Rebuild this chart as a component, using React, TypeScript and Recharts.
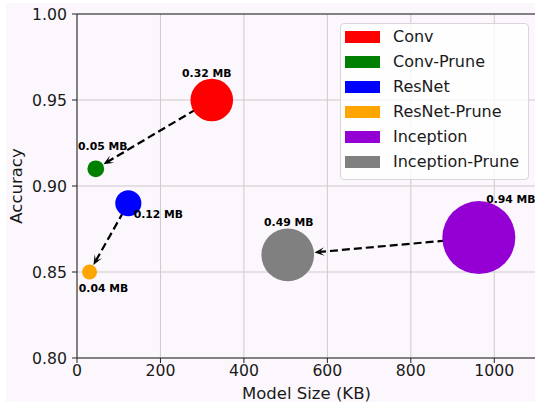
import React from "react";
import {
  ScatterChart,
  Scatter,
  XAxis,
  YAxis,
  ZAxis,
  CartesianGrid,
  ReferenceLine,
  Legend,
} from "recharts";

const models = ["Conv", "Conv-Prune", "ResNet", "ResNet-Prune", "Inception", "Inception-Prune"];
const modelSizeKB = [323, 45, 123, 30, 963, 505];
const accuracy = [0.95, 0.91, 0.89, 0.85, 0.87, 0.86];
const sizeMB = [0.32, 0.05, 0.12, 0.04, 0.94, 0.49];
const pruneArrows = [
  ["Conv", "Conv-Prune"],
  ["ResNet", "ResNet-Prune"],
  ["Inception", "Inception-Prune"],
];
const xTicks = [0, 200, 400, 600, 800, 1000];
const yTicks = [0.8, 0.85, 0.9, 0.95, 1.0];

const colors = ["#ff0000", "#008000", "#0000ff", "#ffa500", "#9400d3", "#808080"];
// where each "x.xx MB" label sits relative to its bubble centre (px)
const labelOffsets: Record<string, [number, number]> = {
  Conv: [-5, -27],
  "Conv-Prune": [7, -22],
  ResNet: [30, 11],
  "ResNet-Prune": [14, 16],
  Inception: [32, -38],
  "Inception-Prune": [1, -32],
};

const FONT = "DejaVu Sans, sans-serif";
const INK = "#1a1a1a";
const PINK = "#fcf7fc";
const MAX_AREA = 4452; // bubble area (px^2) for 1 MB
const radiusOf = (mb: number) => Math.sqrt((mb * MAX_AREA) / Math.PI);

const series = models.map((name, i) => ({
  name,
  color: colors[i],
  data: [{ x: modelSizeKB[i], y: accuracy[i], z: sizeMB[i], label: `${sizeMB[i].toFixed(2)} MB` }],
}));

const bubble = (name: string, color: string) => (p: any) => {
  const r = p.width / 2;
  const [dx, dy] = labelOffsets[name];
  return (
    <g>
      <circle cx={p.cx} cy={p.cy} r={r} fill={color} />
      <text
        x={p.cx + dx}
        y={p.cy + dy}
        textAnchor="middle"
        dominantBaseline="central"
        fontFamily={FONT}
        fontWeight="bold"
        fontSize={10.8}
        fill="#000"
      >
        {p.payload.label}
      </text>
    </g>
  );
};

const arrow = (rFrom: number, rTo: number) => (p: any) => {
  const { x1, y1, x2, y2 } = p;
  const len = Math.hypot(x2 - x1, y2 - y1);
  const ux = (x2 - x1) / len;
  const uy = (y2 - y1) / len;
  const sx = x1 + ux * (rFrom - 3);
  const sy = y1 + uy * (rFrom - 3);
  const tx = x2 - ux * (rTo + 0.5);
  const ty = y2 - uy * (rTo + 0.5);
  const hl = 10;
  const hw = 4.2;
  const notch = 5;
  const bx = tx - ux * hl;
  const by = ty - uy * hl;
  const nx = -uy;
  const ny = ux;
  const pts = [
    [tx, ty],
    [bx + nx * hw, by + ny * hw],
    [tx - ux * notch, ty - uy * notch],
    [bx - nx * hw, by - ny * hw],
  ]
    .map((q) => q.join(","))
    .join(" ");
  return (
    <g>
      <line
        x1={sx}
        y1={sy}
        x2={tx - ux * notch}
        y2={ty - uy * notch}
        stroke="#000"
        strokeWidth={2.2}
        strokeDasharray="8 4"
      />
      <polygon points={pts} fill="#000" />
    </g>
  );
};

const renderLegend = (props: any) => {
  const items = (props.payload || [])
    .filter((e: any) => models.includes(e.value))
    .sort((a: any, b: any) => models.indexOf(a.value) - models.indexOf(b.value));
  return (
    <div
      style={{
        boxSizing: "border-box",
        width: 189,
        height: 157,
        border: "1px solid #d9d5d9",
        borderRadius: 4,
        background: "rgba(255,255,255,0.8)",
        padding: "0px 0 0 4px",
        fontFamily: FONT,
        fontSize: 16,
        color: INK,
      }}
    >
      {items.map((e: any) => (
        <div key={e.value} style={{ display: "flex", alignItems: "center", height: 25 }}>
          <span
            style={{ display: "inline-block", width: 35, height: 12, background: e.color, marginRight: 13 }}
          />
          <span>{e.value}</span>
        </div>
      ))}
    </div>
  );
};

const idx = (name: string) => models.indexOf(name);

export default function App() {
  return (
    <div style={{ position: "absolute", left: 0, top: 0, width: 535, height: 408, background: "#fff" }}>
      <div style={{ position: "absolute", left: 6, top: 3, width: 529, height: 399, background: PINK }} />
      <div style={{ position: "absolute", left: 0, top: 0 }}>
        <ScatterChart width={535} height={408} margin={{ top: 14, right: -1, bottom: 0, left: 0 }}>
          <CartesianGrid stroke="#cdc9cd" strokeWidth={1} />
          <XAxis
            type="number"
            dataKey="x"
            domain={[0, 1100]}
            ticks={xTicks}
            height={50}
            tickSize={5}
            tickMargin={2}
            stroke="#222"
            tick={{ fill: INK, fontSize: 15.7, fontFamily: FONT }}
            label={(lp: any) => {
              const vb = lp.viewBox || { x: 77, y: 358, width: 459, height: 50 };
              return (
                <text
                  x={vb.x + vb.width / 2}
                  y={399}
                  textAnchor="middle"
                  fontFamily={FONT}
                  fontSize={16.5}
                  fill={INK}
                >
                  Model Size (KB)
                </text>
              );
            }}
          />
          <YAxis
            type="number"
            dataKey="y"
            domain={[0.8, 1.0]}
            ticks={yTicks}
            width={77}
            tickSize={5}
            tickMargin={5}
            stroke="#222"
            tickFormatter={(v: number) => v.toFixed(2)}
            tick={{ fill: INK, fontSize: 15.7, fontFamily: FONT }}
            label={(lp: any) => {
              const vb = lp.viewBox || { x: 0, y: 14, width: 77, height: 344 };
              const cy = vb.y + vb.height / 2;
              return (
                <text
                  x={22}
                  y={cy}
                  transform={`rotate(-90 22 ${cy})`}
                  textAnchor="middle"
                  fontFamily={FONT}
                  fontSize={16.5}
                  fill={INK}
                >
                  Accuracy
                </text>
              );
            }}
          />
          <ZAxis type="number" dataKey="z" domain={[0, 1]} range={[0, MAX_AREA]} />
          <ReferenceLine y={1.0} stroke="#222" strokeWidth={1} />
          {series.map((s) => (
            <Scatter
              key={s.name}
              name={s.name}
              data={s.data}
              fill={s.color}
              shape={bubble(s.name, s.color)}
              isAnimationActive={false}
            />
          ))}
          {pruneArrows.map(([from, to]) => {
            const a = idx(from);
            const b = idx(to);
            return (
              <ReferenceLine
                key={from}
                segment={[
                  { x: modelSizeKB[a], y: accuracy[a] },
                  { x: modelSizeKB[b], y: accuracy[b] },
                ]}
                shape={arrow(radiusOf(sizeMB[a]), radiusOf(sizeMB[b]))}
              />
            );
          })}
          <Legend
            layout="horizontal"
            align="center"
            verticalAlign="middle"
            content={renderLegend}
            wrapperStyle={{ position: "absolute", left: 340, top: 23, width: 189, height: 157 }}
          />
        </ScatterChart>
      </div>
    </div>
  );
}
